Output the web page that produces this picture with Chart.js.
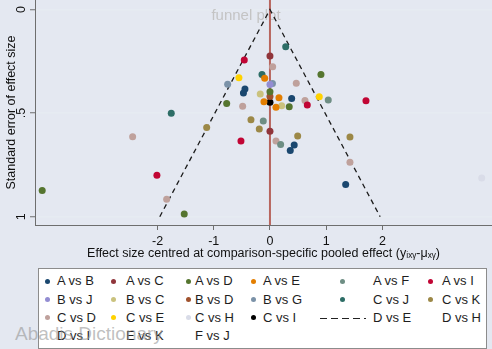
<!DOCTYPE html>
<html>
<head>
<meta charset="utf-8">
<script src="https://cdn.jsdelivr.net/npm/chart.js@4"></script>
<style>
  html, body { margin: 0; padding: 0; }
  body { width: 492px; height: 349px; background: #e4e8f1; position: relative; overflow: hidden;
         font-family: "Liberation Sans", Arial, sans-serif; }
  #wrap { position: absolute; left: 0; top: 0; width: 492px; height: 265px; }
  #legend { position: absolute; left: 38px; top: 268px; width: 449px; height: 81px; background: #fff;
            border: 1px solid #8c8c8c; box-sizing: border-box; }
  .txt { position: absolute; font-size: 13px; color: #1e1e1e; line-height: 16px; white-space: nowrap; }
  .dot { position: absolute; width: 5px; height: 5px; border-radius: 50%; }
  .dash { position: absolute; height: 1.3px;
          background: repeating-linear-gradient(90deg, #222 0 7px, transparent 7px 11px); }
  #mark { position: absolute; left: 15px; top: 323px; font-size: 19px; color: rgba(150,150,150,0.6); white-space: nowrap; }
</style>
</head>
<body>
<div id="wrap"><canvas id="funnel" width="492" height="265"></canvas></div>
<div id="legend"></div>
<div id="mark">Abadis Dictionary</div>
<script>
// [effect centred, standard error] for each comparison
const pAB = [[-0.445, 0.384], [-0.472, 0.403], [0.386, 0.429], [0.431, 0.654], [0.361, 0.681], [1.347, 0.844]];
const pAC = [[0, 0.224], [0, 0.588]];
const pAD = [[0.907, 0.313], [-0.770, 0.453], [0, 0.397], [0.343, 0.469], [-1.525, 0.987], [-4.052, 0.873]];
const pAE = [[-0.094, 0.332], [-0.107, 0.445], [0.160, 0.426], [0.107, 0.472]];
const pAF = [[1.037, 0.437], [-0.119, 0.538], [0.190, 0.651]];
const pAI = [[-0.457, 0.244], [0.664, 0.461], [1.708, 0.440], [-0.516, 0.635], [-2.011, 0.800]];
const pBJ = [[0, 0.362]];
const pBC = [[-0.173, 0.408], [0.208, 0.464]];
const pBD = [[0, 0.420]];
const pBG = [[-0.753, 0.361], [0.044, 0.357]];
const pCJ = [[0.280, 0.180], [-0.142, 0.313], [-1.756, 0.501]];
const pCK = [[-0.338, 0.532], [-0.190, 0.577], [0.493, 0.611], [-1.126, 0.569], [1.423, 0.615]];
const pCD = [[0.048, 0.276], [0.468, 0.356], [-0.486, 0.467], [0.623, 0.439], [0.107, 0.635], [-2.443, 0.614], [-1.838, 0.916], [1.423, 0.737]];
const pCE = [[-0.552, 0.329], [0.877, 0.421]];
const pCH = [[3.767, 0.813]];
const pCI = [[0, 0.448]];

const legendLabels = ['A vs B', 'A vs C', 'A vs D', 'A vs E', 'A vs F', 'A vs I',
  'B vs J', 'B vs C', 'B vs D', 'B vs G', 'C vs J', 'C vs K',
  'C vs D', 'C vs E', 'C vs H', 'C vs I', 'D vs E', 'D vs H',
  'D vs I', 'E vs K', 'F vs J'];
const pointSets = [pAB, pAC, pAD, pAE, pAF, pAI, pBJ, pBC, pBD, pBG, pCJ, pCK, pCD, pCE, pCH, pCI];
const palette = ['#1a476f', '#90353b', '#55752f', '#e37e00', '#6e8e84', '#c10534', '#938dd2', '#cac27e',
  '#a0522d', '#7b92a8', '#2d6d66', '#9c8847', '#bfa19c', '#ffd200', '#d9dce8', '#000000'];

// pseudo 95% limits and axis setup
const funnelEffect = [-1.96, 0, 1.96];
const funnelSE = [1, 0, 1];
const funnelLabel = 'D vs E';
const xTicks = [-2, -1, 0, 1, 2];
const yTicks = [0, 0.5, 1];
const yTickLabels = ['0', '.5', '1'];
const xMin = -4.18, xMax = 3.95, yMin = -0.046, yMax = 1.04;

const font = '"Liberation Sans", Arial, sans-serif';

const datasets = pointSets.map((pts, i) => ({
  label: legendLabels[i],
  data: pts.map(p => ({x: p[0], y: p[1]})),
  backgroundColor: palette[i],
  borderColor: palette[i],
  pointRadius: 3.5,
  pointBorderWidth: 0,
  order: 0
}));
datasets.push({
  label: funnelLabel,
  data: funnelEffect.map((e, i) => ({x: e, y: funnelSE[i]})),
  showLine: true,
  borderColor: '#1a1a1a',
  borderWidth: 1.3,
  borderDash: [5, 4],
  pointRadius: 0,
  order: 10
});
datasets.push({
  label: 'zero',
  data: [{x: 0, y: yMin}, {x: 0, y: yMax}],
  showLine: true,
  borderColor: '#b8665f',
  borderWidth: 2,
  pointRadius: 0,
  order: 11
});

const plotTitle = {
  id: 'plotTitle',
  beforeDatasetsDraw(chart) {
    const ctx = chart.ctx;
    ctx.save();
    ctx.font = '15px ' + font;
    ctx.fillStyle = '#c4c4c4';
    ctx.textAlign = 'center';
    ctx.textBaseline = 'alphabetic';
    ctx.fillText('funnel plot', 246, 20);
    ctx.restore();
  }
};

new Chart(document.getElementById('funnel'), {
  type: 'scatter',
  data: {datasets: datasets},
  plugins: [plotTitle],
  options: {
    responsive: false,
    animation: false,
    devicePixelRatio: 1,
    layout: {padding: 0, autoPadding: false},
    plugins: {legend: {display: false}, tooltip: {enabled: false}},
    scales: {
      x: {
        type: 'linear', min: xMin, max: xMax,
        afterBuildTicks: s => { s.ticks = xTicks.map(v => ({value: v})); },
        afterFit: s => { s.height = 40; s.paddingLeft = 0; s.paddingRight = 0; },
        ticks: {color: '#111', font: {family: font, size: 12.5}, padding: 4, maxRotation: 0},
        grid: {drawOnChartArea: false, tickLength: 5, tickColor: '#6e6e6e', tickWidth: 1},
        border: {display: true, color: '#6e6e6e', width: 1},
        title: {display: true, text: 'Effect size centred at comparison-specific pooled effect (yᵢₓᵧ-μₓᵧ)',
                color: '#111', font: {family: font, size: 12.5}, padding: {top: 0, bottom: 3.5}}
      },
      y: {
        type: 'linear', min: yMin, max: yMax, reverse: true,
        afterBuildTicks: s => { s.ticks = yTicks.map(v => ({value: v})); },
        afterFit: s => { s.width = 35; s.paddingTop = 0; s.paddingBottom = 0; },
        ticks: {color: '#111', font: {family: font, size: 12.5}, padding: 3, minRotation: 90, maxRotation: 90,
                crossAlign: 'center', callback: v => yTickLabels[yTicks.indexOf(v)]},
        grid: {color: '#e6ebf2', lineWidth: 1.5, tickLength: 5, tickColor: '#6e6e6e', tickWidth: 1},
        border: {display: true, color: '#6e6e6e', width: 1},
        title: {display: true, text: 'Standard error of effect size', color: '#111',
                font: {family: font, size: 12.5}, padding: {top: 4.5, bottom: 0}}
      }
    }
  }
});

// legend in six columns, filled row by row
const colDot = [47, 113, 188, 253, 342, 430];
const colText = [57, 126, 195, 263, 373, 442];
const rowMid = [281, 299.5, 317.5, 336];
legendLabels.forEach((lab, i) => {
  const r = Math.floor(i / 6), c = i % 6;
  const t = document.createElement('div');
  t.className = 'txt';
  t.textContent = lab;
  t.style.left = colText[c] + 'px';
  t.style.top = (rowMid[r] - 8) + 'px';
  document.body.appendChild(t);
  if (i < pointSets.length) {
    const d = document.createElement('div');
    d.className = 'dot';
    d.style.background = palette[i];
    d.style.left = (colDot[c] - 2.5) + 'px';
    d.style.top = (rowMid[r] - 2.5) + 'px';
    document.body.appendChild(d);
  } else if (lab === funnelLabel) {
    const d = document.createElement('div');
    d.className = 'dash';
    d.style.left = '320px';
    d.style.width = '46px';
    d.style.top = rowMid[r] + 'px';
    document.body.appendChild(d);
  }
});
document.body.appendChild(document.getElementById('mark'));
</script>
</body>
</html>
